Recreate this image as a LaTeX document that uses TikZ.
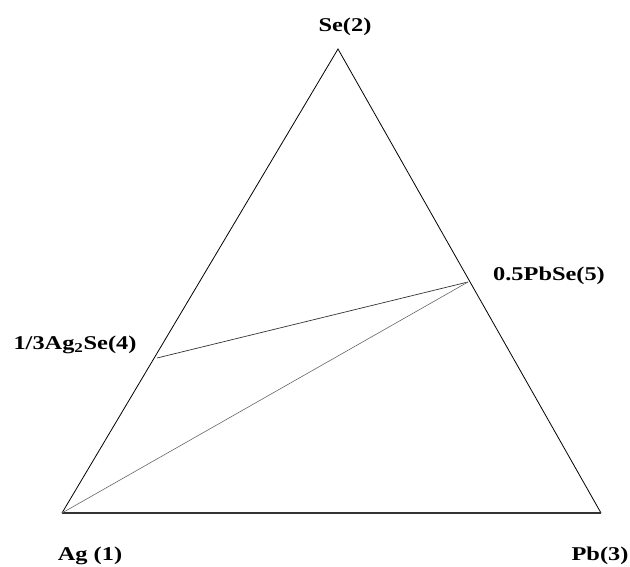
\documentclass[tikz,border=0pt]{standalone}
\usepackage{fontspec}
\setmainfont{Liberation Serif}
\usepackage{tikz}
\newcommand{\widetext}[1]{\scalebox{1.25}[1]{#1}}

\begin{document}
\begin{tikzpicture}[x=1pt,y=-1pt,lbl/.style={anchor=base,inner sep=0pt,font=\fontsize{19.5}{22}\selectfont\bfseries}]
\useasboundingbox (0,0) rectangle (630,567);
% corners of the triangle:
\coordinate (ag) at (62,513);
\coordinate (se) at (338,49);
\coordinate (pb) at (601,513);
\coordinate (agse) at (157,358);
\coordinate (pbse) at (468,282);
\path[draw=black,line width=0.8pt] (ag) -- (se) -- (pb);
\path[draw=black!80,line width=1.4pt] (ag) -- (pb);
% tie lines:
\path[draw=black!80,line width=0.7pt] (agse) -- (pbse);
\path[draw=black!60,line width=0.6pt] (ag) -- (pbse);
% labels:
\node[lbl] (lse) at (345,32) {\widetext{Se(2)}};
\node[lbl] (lpbse) at (549,280) {\widetext{0.5PbSe(5)}};
\node[lbl] (lagse) at (75,349) {\widetext{1/3Ag\textsubscript{2}Se(4)}};
\node[lbl] (lag) at (90,560) {\widetext{Ag (1)}};
\node[lbl] (lpb) at (600,560) {\widetext{Pb(3)}};
\end{tikzpicture}
\end{document}
